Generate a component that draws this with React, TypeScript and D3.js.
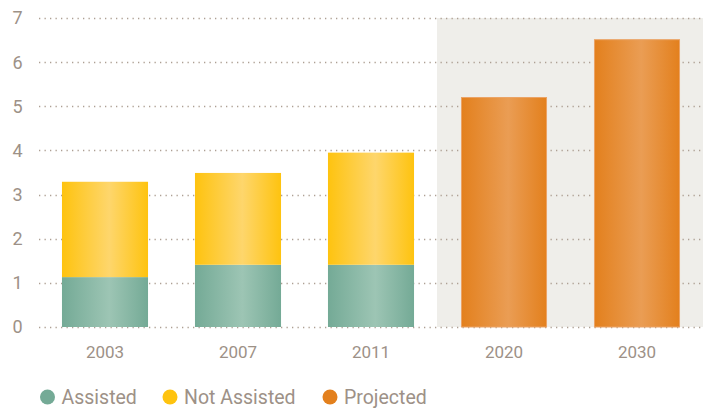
import React from "react";
import * as d3 from "d3";

const years = ["2003", "2007", "2011", "2020", "2030"];
const assisted = [1.13, 1.41, 1.41, 0, 0];
const notAssisted = [2.16, 2.08, 2.54, 0, 0];
const projected = [0, 0, 0, 5.21, 6.52];
const yTicks = [0, 1, 2, 3, 4, 5, 6, 7];
const legendItems = ["Assisted", "Not Assisted", "Projected"];
const projectedYears = ["2020", "2030"];

const W = 703;
const H = 409;
const FONT = "Roboto, 'Noto Sans', sans-serif";
const TEXT = "#9d9187";
const GRID = "#ad9f93";

const colors = {
  Assisted: { edge: "#74aa96", mid: "#9dc5b4" },
  "Not Assisted": { edge: "#fec30f", mid: "#fed66c" },
  Projected: { edge: "#e3801d", mid: "#ea9d54" },
};

export default function App() {
  const x = d3.scaleBand<string>().domain(years).range([38.5, 703.5]).paddingInner(0.353).paddingOuter(0.1765);
  const y = d3.scaleLinear().domain([0, 7]).range([327, 18]);
  const shadeX = (x(projectedYears[0]) as number) - x.step() * 0.18;

  const gradId = (k: string) => "g-" + k.replace(/\s/g, "");

  return (
    <svg width={W} height={H} style={{ position: "absolute", left: 0, top: 0, background: "#fff" }}>
      <defs>
        {legendItems.map((k) => (
          <linearGradient key={k} id={gradId(k)} x1="0" x2="1" y1="0" y2="0">
            <stop offset="0%" stopColor={colors[k].edge} />
            <stop offset="55%" stopColor={colors[k].mid} />
            <stop offset="100%" stopColor={colors[k].edge} />
          </linearGradient>
        ))}
      </defs>
      <rect x={shadeX} y={y(7)} width={W - shadeX} height={y(0) - y(7)} fill="#efeeea" />
      {yTicks.map((t) => (
        <g key={t}>
          <line
            x1={39}
            x2={W}
            y1={Math.round(y(t)) + 0.5}
            y2={Math.round(y(t)) + 0.5}
            stroke={GRID}
            strokeWidth={1.3}
            strokeDasharray="1.3,4.2"
          />
          <text x={17.5} y={y(t)} dy="0.36em" textAnchor="middle" fontFamily={FONT} fontSize={18} fill={TEXT}>
            {t}
          </text>
        </g>
      ))}
      {years.map((yr, i) => {
        const bx = x(yr) as number;
        const bw = x.bandwidth();
        const a = assisted[i];
        const n = notAssisted[i];
        const p = projected[i];
        return (
          <g key={yr}>
            {a > 0 && <rect x={bx} y={y(a)} width={bw} height={y(0) - y(a)} fill={`url(#${gradId("Assisted")})`} />}
            {n > 0 && (
              <rect x={bx} y={y(a + n)} width={bw} height={y(a) - y(a + n)} fill={`url(#${gradId("Not Assisted")})`} />
            )}
            {p > 0 && (
              <rect
                x={bx + 0.5}
                y={y(p) + 0.5}
                width={bw - 1}
                height={y(0) - y(p) - 0.5}
                fill={`url(#${gradId("Projected")})`}
                stroke="#eba366"
                strokeWidth={1}
              />
            )}
            <text x={bx + bw / 2} y={358} textAnchor="middle" fontFamily={FONT} fontSize={17} fill={TEXT}>
              {yr}
            </text>
          </g>
        );
      })}
      {legendItems.map((k, i) => {
        const cx = [47.5, 170, 330][i];
        return (
          <g key={k}>
            <circle cx={cx} cy={397} r={7.5} fill={colors[k].edge} />
            <text x={cx + 14} y={404} fontFamily={FONT} fontSize={19.5} fill={TEXT}>
              {k}
            </text>
          </g>
        );
      })}
    </svg>
  );
}
